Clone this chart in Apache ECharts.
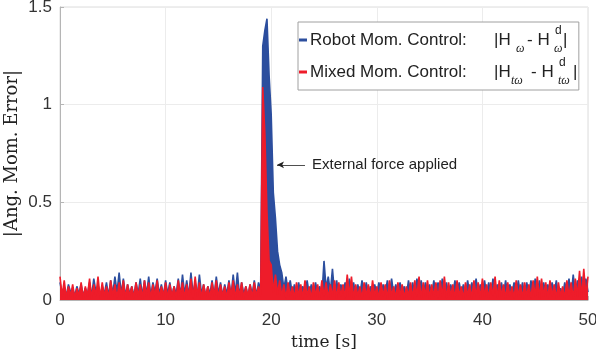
<!DOCTYPE html>
<html>
<head>
<meta charset="utf-8">
<script src="https://cdn.jsdelivr.net/npm/echarts@6/dist/echarts.min.js"></script>
<style>
  html, body { margin: 0; padding: 0; background: #fff; }
  #main { width: 596px; height: 352px; }
</style>
</head>
<body>
<div id="main"></div>
<script>
// sample step of the recorded signals [s]
var step = 0.2;

// |H_w - H^d_w|  (robot momentum control)
var robotErr = [
  0.09,0.03,0.07,0.02,0.08,0.04,0.06,0.02,0.07,0.03,
  0.08,0.02,0.06,0.03,0.09,0.02,0.11,0.04,0.08,0.02,
  0.07,0.03,0.09,0.02,0.10,0.03,0.12,0.04,0.14,0.03,
  0.11,0.02,0.08,0.03,0.07,0.02,0.09,0.03,0.11,0.02,
  0.10,0.03,0.12,0.02,0.09,0.04,0.11,0.03,0.08,0.02,
  0.10,0.03,0.09,0.02,0.07,0.03,0.11,0.02,0.13,0.03,
  0.10,0.02,0.14,0.03,0.09,0.02,0.13,0.03,0.08,0.02,
  0.07,0.03,0.10,0.02,0.12,0.03,0.09,0.02,0.08,0.03,
  0.10,0.02,0.13,0.03,0.14,0.02,0.09,0.03,0.07,0.02,
  0.08,0.03,0.10,0.02,0.09,0.05,1.30,1.38,1.44,1.15,
  0.95,0.55,0.42,0.25,0.18,0.14,0.06,0.12,0.04,0.10,
  0.03,0.08,0.02,0.09,0.03,0.07,0.02,0.10,0.03,0.08,
  0.02,0.09,0.03,0.07,0.02,0.20,0.06,0.12,0.04,0.16,
  0.03,0.10,0.02,0.08,0.03,0.09,0.02,0.11,0.03,0.09,
  0.02,0.08,0.03,0.10,0.02,0.09,0.03,0.07,0.02,0.08,
  0.03,0.09,0.02,0.08,0.03,0.10,0.02,0.11,0.03,0.08,
  0.02,0.09,0.03,0.07,0.02,0.10,0.03,0.09,0.02,0.11,
  0.03,0.10,0.02,0.09,0.03,0.08,0.02,0.10,0.03,0.09,
  0.02,0.11,0.03,0.09,0.02,0.08,0.03,0.10,0.02,0.09,
  0.03,0.08,0.02,0.10,0.03,0.09,0.02,0.11,0.03,0.08,
  0.02,0.10,0.03,0.09,0.02,0.11,0.03,0.08,0.02,0.09,
  0.03,0.10,0.02,0.08,0.03,0.09,0.02,0.10,0.03,0.09,
  0.02,0.09,0.03,0.10,0.02,0.11,0.03,0.10,0.02,0.09,
  0.03,0.08,0.02,0.09,0.03,0.10,0.01,0.06,0.02,0.09,
  0.03,0.11,0.02,0.13,0.03,0.10,0.02,0.12,0.03,0.11,
  0.04
];

// |H_tw - H^d_tw|  (mixed momentum control)
var mixedErr = [
  0.12,0.02,0.10,0.01,0.07,0.02,0.08,0.01,0.06,0.02,
  0.09,0.01,0.07,0.02,0.11,0.01,0.08,0.02,0.12,0.01,
  0.09,0.02,0.07,0.01,0.10,0.02,0.08,0.01,0.09,0.02,
  0.10,0.01,0.08,0.02,0.07,0.01,0.09,0.02,0.08,0.01,
  0.10,0.02,0.09,0.01,0.08,0.02,0.10,0.01,0.07,0.02,
  0.09,0.01,0.08,0.02,0.07,0.01,0.10,0.02,0.09,0.01,
  0.08,0.02,0.11,0.01,0.12,0.02,0.09,0.01,0.08,0.02,
  0.07,0.01,0.09,0.02,0.10,0.01,0.08,0.02,0.07,0.01,
  0.09,0.02,0.10,0.01,0.08,0.02,0.09,0.01,0.07,0.02,
  0.08,0.01,0.09,0.02,0.07,0.02,1.09,0.85,0.45,0.20,
  0.18,0.04,0.13,0.03,0.10,0.02,0.08,0.01,0.09,0.02,
  0.07,0.01,0.09,0.02,0.08,0.01,0.10,0.02,0.07,0.01,
  0.09,0.02,0.08,0.01,0.10,0.02,0.09,0.01,0.08,0.02,
  0.10,0.01,0.09,0.02,0.08,0.01,0.13,0.02,0.12,0.01,
  0.08,0.02,0.07,0.01,0.09,0.02,0.08,0.01,0.10,0.02,
  0.07,0.01,0.09,0.02,0.08,0.01,0.10,0.02,0.07,0.01,
  0.09,0.02,0.08,0.01,0.07,0.02,0.09,0.01,0.10,0.02,
  0.12,0.01,0.09,0.02,0.10,0.01,0.08,0.02,0.09,0.01,
  0.10,0.02,0.12,0.01,0.09,0.02,0.08,0.01,0.10,0.02,
  0.07,0.01,0.09,0.02,0.08,0.01,0.10,0.02,0.09,0.01,
  0.11,0.02,0.08,0.01,0.09,0.02,0.12,0.01,0.10,0.02,
  0.08,0.01,0.09,0.02,0.07,0.01,0.10,0.02,0.08,0.01,
  0.09,0.02,0.08,0.01,0.10,0.02,0.12,0.01,0.11,0.02,
  0.09,0.01,0.10,0.02,0.08,0.01,0.09,0.02,0.07,0.01,
  0.10,0.02,0.09,0.01,0.11,0.02,0.15,0.01,0.16,0.02,
  0.12
];

var seriesNames = ['Robot Mom. Control:', 'Mixed Mom. Control:'];
var seriesColors = ['#2c4e9e', '#ee1c2a'];
var xTicks = [0, 10, 20, 30, 40, 50];
var yTicks = [0, 0.5, 1, 1.5];
// arrow of the note: [tail, head] in data units
var noteArrow = [[23.2, 0.692], [20.55, 0.692]];
var noteText = 'External force applied';

function toPairs(arr) {
  var out = [];
  for (var i = 0; i < arr.length; i++) {
    out.push([+(i * step).toFixed(2), arr[i]]);
  }
  return out;
}

var sans = 'Liberation Sans';
var serif = 'DejaVu Serif';

var chart = echarts.init(document.getElementById('main'), null, { renderer: 'canvas' });

function mathText(x, y, txt, size, italic) {
  return {
    type: 'text', z: 100,
    style: {
      x: x, y: y, text: txt, fill: '#222',
      font: (italic ? 'italic ' : '') + size + 'px ' + (italic ? 'Liberation Serif' : sans),
      verticalAlign: 'middle', align: 'left'
    }
  };
}

var option = {
  animation: false,
  backgroundColor: '#fff',
  grid: {
    left: 60, right: 8, top: 7, bottom: 52,
    outerBoundsMode: 'none', containLabel: false,
    show: true, borderColor: '#dcdcdc', borderWidth: 1
  },
  xAxis: {
    type: 'value',
    min: xTicks[0], max: xTicks[xTicks.length - 1], interval: 10,
    name: 'time [s]', nameLocation: 'middle', nameGap: 34, nameMoveOverlap: false,
    nameTextStyle: { fontFamily: serif, fontSize: 17, color: '#222' },
    axisLine: { show: true, lineStyle: { color: '#b5b5b5', width: 1 } },
    axisTick: { show: true, inside: true, length: 4, lineStyle: { color: '#b5b5b5' } },
    axisLabel: { fontFamily: sans, fontSize: 17, color: '#333', margin: 12 },
    splitLine: { show: true, lineStyle: { color: '#ececec', width: 1 } }
  },
  yAxis: {
    type: 'value',
    min: yTicks[0], max: yTicks[yTicks.length - 1], interval: 0.5,
    name: '|Ang. Mom. Error|', nameLocation: 'middle', nameGap: 39, nameMoveOverlap: false,
    nameTextStyle: { fontFamily: serif, fontSize: 18, color: '#222' },
    axisLine: { show: true, lineStyle: { color: '#b5b5b5', width: 1 } },
    axisTick: { show: true, inside: true, length: 4, lineStyle: { color: '#b5b5b5' } },
    axisLabel: { fontFamily: sans, fontSize: 17, color: '#333', margin: 8 },
    splitLine: { show: true, lineStyle: { color: '#ececec', width: 1 } }
  },
  legend: {
    orient: 'vertical',
    left: 298, top: 22,
    data: seriesNames,
    icon: 'rect', itemWidth: 8, itemHeight: 3, itemGap: 12,
    padding: [8, 112, 8, 1],
    backgroundColor: '#fff',
    borderColor: '#a0a0a0', borderWidth: 1, borderRadius: 0,
    textStyle: { fontFamily: sans, fontSize: 17, color: '#222', lineHeight: 20, padding: [0, 0, 0, -2] }
  },
  graphic: [
    mathText(494, 40, '|H', 17),
    mathText(516, 49, 'ω', 12, true),
    mathText(527, 40, '- H', 17),
    mathText(555, 31, 'd', 12),
    mathText(554, 49, 'ω', 12, true),
    mathText(563, 40, '|', 17),
    mathText(494, 72, '|H', 17),
    mathText(511, 81, 'tω', 12, true),
    mathText(531, 72, '- H', 17),
    mathText(559, 63, 'd', 12),
    mathText(558, 81, 'tω', 12, true),
    mathText(573, 72, '|', 17)
  ],
  series: [
    {
      name: seriesNames[0], type: 'line', data: toPairs(robotErr),
      showSymbol: false, symbol: 'none',
      lineStyle: { color: seriesColors[0], width: 1.6 },
      areaStyle: { color: seriesColors[0], opacity: 1 },
      itemStyle: { color: seriesColors[0] },
      z: 2
    },
    {
      name: seriesNames[1], type: 'line', data: toPairs(mixedErr),
      showSymbol: false, symbol: 'none',
      lineStyle: { color: seriesColors[1], width: 1.6 },
      areaStyle: { color: seriesColors[1], opacity: 1 },
      itemStyle: { color: seriesColors[1] },
      z: 3,
      markLine: {
        silent: true,
        symbol: ['none', 'arrow'], symbolSize: [5, 7],
        lineStyle: { color: '#222', width: 0.8, type: 'solid' },
        label: {
          show: true, position: 'start', formatter: noteText,
          fontFamily: sans, fontSize: 15, color: '#222', distance: 7
        },
        data: [[{ coord: noteArrow[0] }, { coord: noteArrow[1] }]]
      }
    }
  ]
};

chart.setOption(option);
</script>
</body>
</html>
